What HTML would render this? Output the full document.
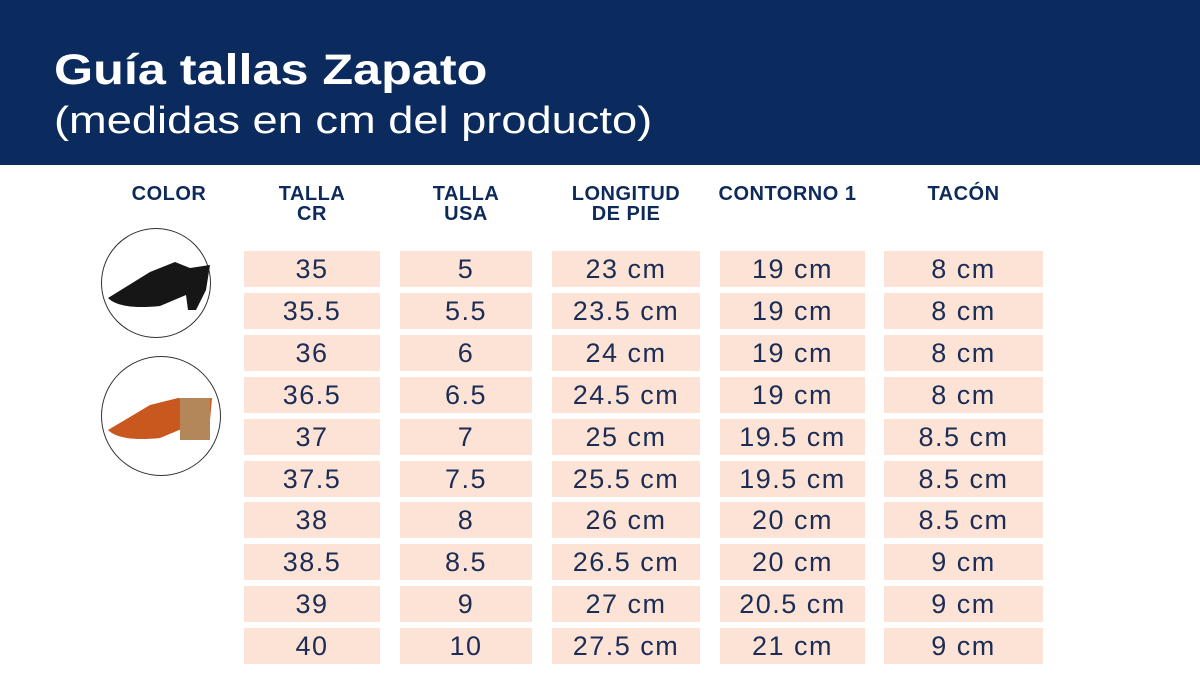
<!DOCTYPE html>
<html><head><meta charset="utf-8"><style>
body{margin:0;width:1200px;height:697px;background:#fff;position:relative;overflow:hidden;font-family:"Liberation Sans",sans-serif;color:#1c2d55}
.hd{position:absolute;left:0;top:0;width:1200px;height:165px;background:#0b2a5d;color:#fff}
.t1{position:absolute;left:54px;top:46px;font-size:43px;font-weight:bold;transform:scaleX(1.17);transform-origin:0 0}
.t2{position:absolute;left:54px;top:100px;font-size:38px;transform:scaleX(1.19);transform-origin:0 0}
.ch{position:absolute;top:184px;font-size:20px;font-weight:bold;text-align:center;line-height:20px;color:#0e2a5a;letter-spacing:0.5px}
.c{position:absolute;height:36px;background:#fde2d6;text-align:center;font-size:27px;line-height:37px;color:#1c2d55;letter-spacing:1.5px}
.circ{position:absolute;border:1.5px solid #333;border-radius:50%;background:#fff}
</style></head><body>
<div class="hd"><div class="t1">Guía tallas Zapato</div><div class="t2">(medidas en cm del producto)</div></div>
<div class="ch" style="left:120px;width:98px">COLOR</div>
<div class="ch" style="left:244px;width:136px">TALLA<br>CR</div>
<div class="ch" style="left:400px;width:132px">TALLA<br>USA</div>
<div class="ch" style="left:545px;width:162px">LONGITUD<br>DE PIE</div>
<div class="ch" style="left:700px;width:175px">CONTORNO 1</div>
<div class="ch" style="left:884px;width:159px">TACÓN</div>
<div class="circ" style="left:101px;top:228px;width:108px;height:108px"></div>
<div class="circ" style="left:101px;top:356px;width:118px;height:118px"></div>
<svg style="position:absolute;left:0;top:0" width="1200" height="697">
<path d="M108 298 L150 272 L175 262 L190 268 L210 265 L206 290 L196 310 L188 310 L186 295 L160 306 Q120 310 108 298Z" fill="#161616"/>
<path d="M108 430 L150 405 L178 398 L195 400 L212 398 L210 420 L198 440 L186 440 L184 428 L160 438 Q120 442 108 430Z" fill="#c9581f"/>
<rect x="180" y="398" width="30" height="42" fill="#b4875a"/>
</svg>
<div id="g"></div>
<script>
var d=[["35","5","23 cm","19 cm","8 cm"],["35.5","5.5","23.5 cm","19 cm","8 cm"],["36","6","24 cm","19 cm","8 cm"],["36.5","6.5","24.5 cm","19 cm","8 cm"],["37","7","25 cm","19.5 cm","8.5 cm"],["37.5","7.5","25.5 cm","19.5 cm","8.5 cm"],["38","8","26 cm","20 cm","8.5 cm"],["38.5","8.5","26.5 cm","20 cm","9 cm"],["39","9","27 cm","20.5 cm","9 cm"],["40","10","27.5 cm","21 cm","9 cm"]];
var cols=[[244,136],[400,132],[552,148],[720,145],[884,159]],h="";
d.forEach(function(r,i){r.forEach(function(v,j){h+='<div class="c" style="left:'+cols[j][0]+'px;width:'+cols[j][1]+'px;top:'+(251+i*41.9)+'px">'+v+'</div>';});});
document.getElementById("g").innerHTML=h;
</script>
</body></html>
